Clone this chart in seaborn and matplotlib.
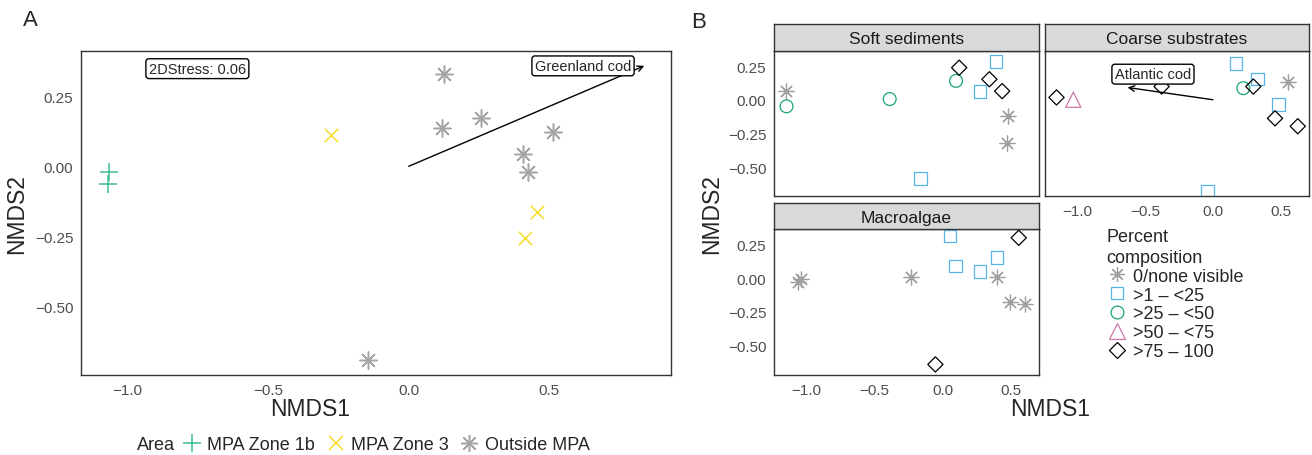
import pandas as pd
import matplotlib.pyplot as plt
import seaborn as sns
from matplotlib.lines import Line2D

# ---- panel A data: NMDS scores by area ----
area_x = [-1.067, -1.069, -0.275, 0.456, 0.415, 0.124, 0.120, 0.257, 0.513, 0.406, 0.423, -0.145]
area_y = [-0.019, -0.062, 0.113, -0.162, -0.255, 0.329, 0.136, 0.173, 0.121, 0.043, -0.019, -0.692]
area_grp = ["MPA Zone 1b", "MPA Zone 1b",
            "MPA Zone 3", "MPA Zone 3", "MPA Zone 3",
            "Outside MPA", "Outside MPA", "Outside MPA", "Outside MPA",
            "Outside MPA", "Outside MPA", "Outside MPA"]
area_levels = ["MPA Zone 1b", "MPA Zone 3", "Outside MPA"]
greenland_cod = (0.838, 0.358)
stress_text = "2DStress: 0.06"

# ---- panel B data: NMDS scores by habitat and percent composition ----
hab_levels = ["Soft sediments", "Coarse substrates", "Macroalgae"]
cover_levels = ["0/none visible", ">1 \u2013 <25", ">25 \u2013 <50", ">50 \u2013 <75", ">75 \u2013 100"]

soft_x = [-1.155, -1.148, -0.389, 0.122, 0.099, 0.394, 0.344, 0.275, 0.438, 0.481, 0.471, -0.163]
soft_y = [0.066, -0.049, 0.005, 0.238, 0.140, 0.283, 0.152, 0.061, 0.064, -0.123, -0.319, -0.585]
soft_c = [0, 2, 2, 4, 2, 1, 4, 1, 4, 0, 0, 1]

coarse_x = [-1.155, -1.031, -0.379, 0.168, 0.328, 0.298, 0.224, 0.552, 0.483, 0.458, 0.626, -0.041]
coarse_y = [0.017, 0.000, 0.098, 0.270, 0.152, 0.098, 0.086, 0.133, -0.034, -0.138, -0.197, -0.676]
coarse_c = [4, 3, 4, 1, 1, 4, 2, 0, 1, 4, 4, 1]

macro_x = [-1.040, -1.060, -0.232, 0.056, 0.094, 0.277, 0.402, 0.399, 0.560, 0.494, 0.608, -0.053]
macro_y = [-0.010, -0.030, 0.010, 0.311, 0.088, 0.049, 0.152, 0.010, 0.297, -0.179, -0.194, -0.637]
macro_c = [0, 0, 0, 1, 1, 1, 1, 0, 4, 0, 0, 4]

atlantic_cod = (-0.631, 0.091)

# ticks
a_xticks = [-1.0, -0.5, 0.0, 0.5]
a_xlabels = ["\u22121.0", "\u22120.5", "0.0", "0.5"]
a_yticks = [0.25, 0.0, -0.25, -0.5]
a_ylabels = ["0.25", "0.00", "\u22120.25", "\u22120.50"]

# ---- styling ----
sns.set_style("white")
plt.rcParams["font.family"] = ["Liberation Sans", "DejaVu Sans"]

area_style = {
    "MPA Zone 1b": dict(marker="+", color="#3DBB91", s=170),
    "MPA Zone 3": dict(marker="x", color="#F7DC2A", s=95),
    "Outside MPA": dict(marker=(8, 2, 0), color="#A6A6A6", s=150),
}
cover_style = [
    dict(marker=(8, 2, 0), color="#A0A0A0", s=115, open=False),
    dict(marker="s", color="#56B4E9", s=80, open=True),
    dict(marker="o", color="#1AA37A", s=85, open=True),
    dict(marker="^", color="#CC79A7", s=120, open=True),
    dict(marker="D", color="#000000", s=60, open=True),
]

W, H = 1312, 456
fig = plt.figure(figsize=(W / 100, H / 100), dpi=100)


def box(l, t, r, b):
    return [l / W, 1 - b / H, (r - l) / W, (b - t) / H]


def frame(ax, tick_color="#4D4D4D"):
    for sp in ax.spines.values():
        sp.set_color("#333333")
        sp.set_linewidth(1.0)
        sp.set_visible(True)
    ax.tick_params(axis="both", direction="out", length=3.5, width=0.8,
                   color="#333333", labelcolor=tick_color, labelsize=11, pad=2)
    ax.grid(False)


# ---------------- Panel A ----------------
axA = fig.add_axes(box(81, 52, 671, 376))
dfA = pd.DataFrame({"NMDS1": area_x, "NMDS2": area_y, "Area": area_grp})
for lvl in area_levels:
    st = area_style[lvl]
    sns.scatterplot(data=dfA[dfA["Area"] == lvl], x="NMDS1", y="NMDS2", ax=axA,
                    marker=st["marker"], color=st["color"], s=st["s"],
                    linewidth=1.1, legend=False, zorder=3)
axA.annotate("", xy=greenland_cod, xytext=(0, 0),
             arrowprops=dict(arrowstyle="->", color="black", lw=1.0,
                             shrinkA=0, shrinkB=0, mutation_scale=10))
axA.text(0.62, 0.358, "Greenland cod", ha="center", va="center", fontsize=10.5,
         zorder=5, bbox=dict(boxstyle="round,pad=0.2,rounding_size=0.2",
                             fc="white", ec="black", lw=1.0))
axA.text(-0.752, 0.348, stress_text, ha="center", va="center", fontsize=10.5,
         zorder=5, bbox=dict(boxstyle="round,pad=0.2,rounding_size=0.2",
                             fc="white", ec="black", lw=1.0))
axA.set_xlim(-1.166, 0.933)
axA.set_ylim(-0.744, 0.411)
axA.set_xticks(a_xticks, a_xlabels)
axA.set_yticks(a_yticks, a_ylabels)
axA.set_xlabel("")
axA.set_ylabel("NMDS2", fontsize=16.5, labelpad=5)
frame(axA)
fig.text(310 / W, 1 - 410 / H, "NMDS1", fontsize=16.5, ha="center", va="center")

fig.text(30 / W, 1 - 20 / H, "A", fontsize=16, ha="center", va="center")
fig.text(699 / W, 1 - 22 / H, "B", fontsize=16, ha="center", va="center")

# legend A
fig.text(137 / W, 1 - 446 / H, "Area", fontsize=13, ha="left", va="center")
hA = [Line2D([], [], linestyle="none", marker=area_style[l]["marker"],
             color=area_style[l]["color"], markersize=(area_style[l]["s"]) ** 0.5,
             markeredgewidth=1.1) for l in area_levels]
fig.legend(hA, area_levels, ncol=3, loc="center left",
           bbox_to_anchor=(180 / W, 1 - 446 / H), frameon=False, fontsize=13,
           handletextpad=0.2, columnspacing=0.5, handlelength=1.3,
           borderpad=0, borderaxespad=0)

# ---------------- Panel B ----------------
facets = {
    "Soft sediments": (soft_x, soft_y, soft_c, (774, 52, 1039, 197), (774, 25, 1039, 52)),
    "Coarse substrates": (coarse_x, coarse_y, coarse_c, (1045, 52, 1309, 197), (1045, 25, 1309, 52)),
    "Macroalgae": (macro_x, macro_y, macro_c, (774, 230, 1039, 376), (774, 204, 1039, 230)),
}
b_ticks = [-1.0, -0.5, 0.0, 0.5]
for hab in hab_levels:
    xs, ys, cs, pbox, sbox = facets[hab]
    ax = fig.add_axes(box(*pbox))
    dfB = pd.DataFrame({"NMDS1": xs, "NMDS2": ys,
                        "cover": [cover_levels[c] for c in cs]})
    for i, lvl in enumerate(cover_levels):
        sub = dfB[dfB["cover"] == lvl]
        if sub.empty:
            continue
        st = cover_style[i]
        if st["open"]:
            sns.scatterplot(data=sub, x="NMDS1", y="NMDS2", ax=ax, marker=st["marker"],
                            s=st["s"], color=st["color"], facecolor="none",
                            edgecolor=st["color"], linewidth=0.9, legend=False, zorder=3)
        else:
            sns.scatterplot(data=sub, x="NMDS1", y="NMDS2", ax=ax, marker=st["marker"],
                            s=st["s"], color=st["color"], linewidth=0.9,
                            legend=False, zorder=3)
    if hab == "Coarse substrates":
        ax.annotate("", xy=atlantic_cod, xytext=(0, 0),
                    arrowprops=dict(arrowstyle="->", color="black", lw=1.0,
                                    shrinkA=0, shrinkB=0, mutation_scale=10))
        ax.text(-0.443, 0.19, "Atlantic cod", ha="center", va="center", fontsize=10.5,
                zorder=5, bbox=dict(boxstyle="round,pad=0.2,rounding_size=0.2",
                                    fc="white", ec="black", lw=1.0))
    ax.set_xlim(-1.24, 0.709)
    ax.set_ylim(-0.715, 0.362)
    ax.set_xlabel("")
    ax.set_ylabel("")
    ax.set_xticks(b_ticks, a_xlabels)
    ax.set_yticks(a_yticks, a_ylabels)
    frame(ax)
    if hab == "Soft sediments":
        ax.tick_params(labelbottom=False, bottom=False)
    if hab == "Coarse substrates":
        ax.tick_params(labelleft=False, left=False)
    # strip
    sax = fig.add_axes(box(*sbox))
    sax.set_facecolor("#D9D9D9")
    sax.set_xticks([])
    sax.set_yticks([])
    for sp in sax.spines.values():
        sp.set_color("#333333")
        sp.set_linewidth(1.0)
        sp.set_visible(True)
    sax.text(0.5, 0.45, hab, ha="center", va="center", fontsize=12.5,
             color="#1A1A1A", transform=sax.transAxes)

fig.text(1050 / W, 1 - 410 / H, "NMDS1", fontsize=16.5, ha="center", va="center")
fig.text(712 / W, 1 - 214 / H, "NMDS2", fontsize=16.5, ha="center", va="center",
         rotation=90)

# legend B
hB = []
for st in cover_style:
    if st["open"]:
        hB.append(Line2D([], [], linestyle="none", marker=st["marker"],
                         markerfacecolor="none", markeredgecolor=st["color"],
                         markersize=st["s"] ** 0.5, markeredgewidth=0.9))
    else:
        hB.append(Line2D([], [], linestyle="none", marker=st["marker"],
                         color=st["color"], markersize=st["s"] ** 0.5,
                         markeredgewidth=0.9))
legB = fig.legend(hB, cover_levels, title="Percent\ncomposition", loc="upper left",
                  bbox_to_anchor=(1106 / W, 1 - 229 / H), frameon=False,
                  fontsize=13, title_fontsize=13, alignment="left",
                  labelspacing=0.1, handletextpad=0.3, handlelength=1.2,
                  borderpad=0, borderaxespad=0)
legB.get_title().set_linespacing(1.3)

fig.savefig("out.png", dpi=100)
